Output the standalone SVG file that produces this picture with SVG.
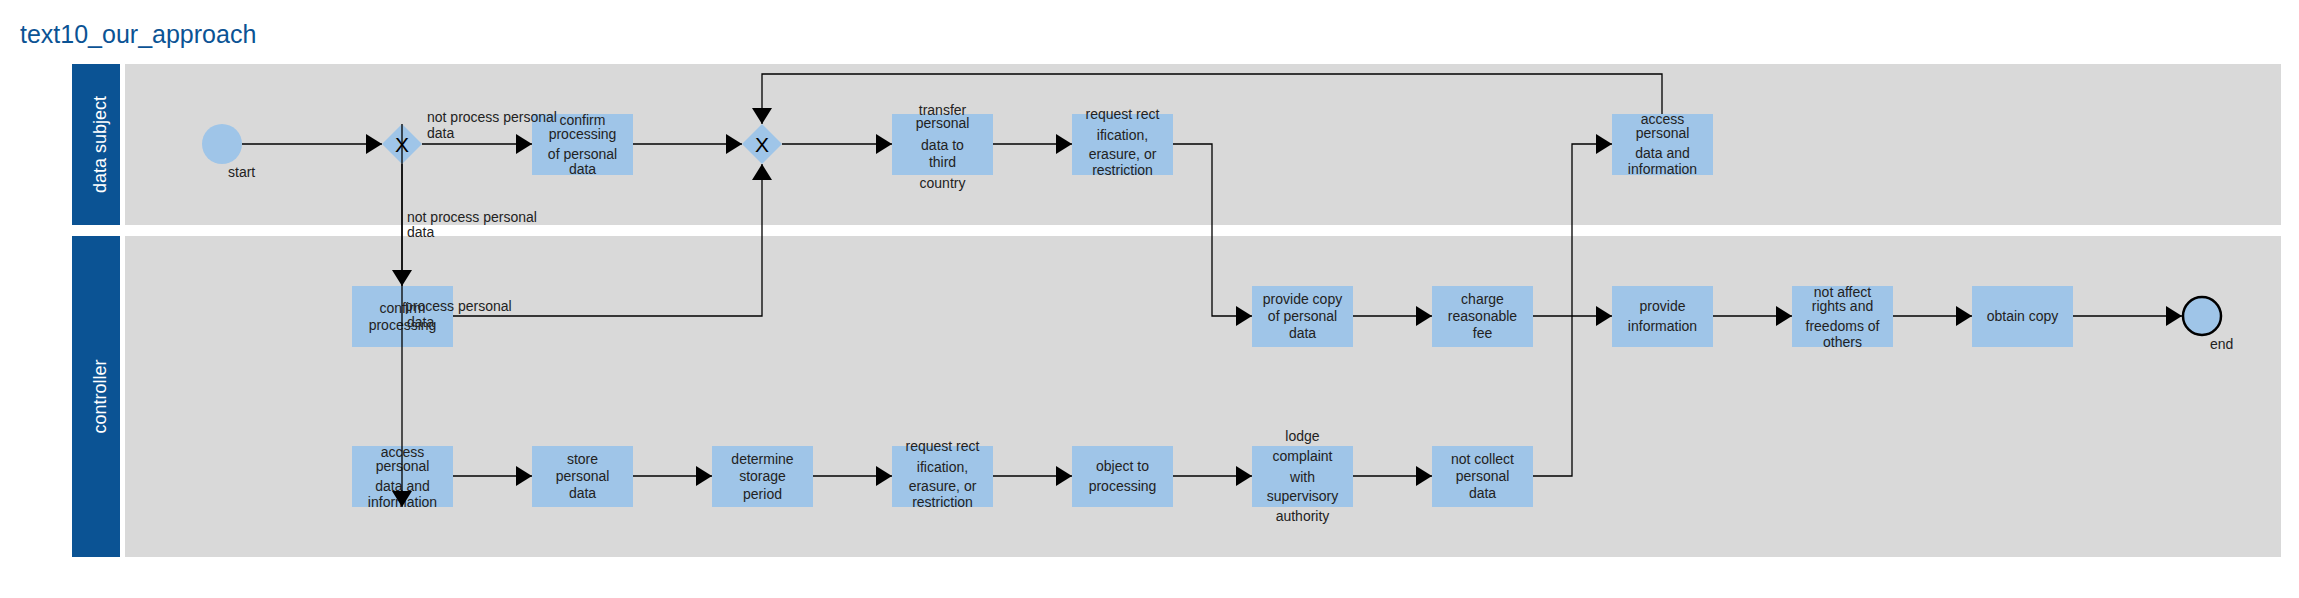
<svg xmlns="http://www.w3.org/2000/svg" width="2299" height="598" viewBox="0 0 2299 598">
<style>
text{font-family:"Liberation Sans",Arial,sans-serif;fill:#222;}
.t{font-size:14px;text-anchor:middle;}
.l{font-size:14px;}
.lane-h{fill:#0b5394;}
.lane-b{fill:#d9d9d9;}
.lane-t{font-size:18px;fill:#fff;text-anchor:middle;}
.task{fill:#9fc5e8;}
.gw{fill:#9fc5e8;}
.gx{font-size:21px;text-anchor:middle;fill:#000;}
.c{fill:none;stroke:#000;stroke-width:1.3;marker-end:url(#arr);}
</style>
<defs>
<marker id="arr" markerUnits="userSpaceOnUse" viewBox="0 0 16 20" refX="16" refY="10" markerWidth="16" markerHeight="20" orient="auto">
<path d="M0,0 L16,10 L0,20 z" fill="#000"/>
</marker>
</defs>
<rect width="2299" height="598" fill="#fff"/>
<text x="20" y="43" style="font-size:25px;fill:#0b5394">text10_our_approach</text>

<g id="lane-data-subject">
<rect class="lane-h" x="72" y="64" width="48" height="161"/>
<rect class="lane-b" x="125" y="64" width="2156" height="161"/>
<text class="lane-t" transform="translate(106,144.5) rotate(-90)">data subject</text>
</g>
<g id="lane-controller">
<rect class="lane-h" x="72" y="236" width="48" height="321"/>
<rect class="lane-b" x="125" y="236" width="2156" height="321"/>
<text class="lane-t" transform="translate(106,396.5) rotate(-90)">controller</text>
</g>

<g id="start">
<circle cx="222" cy="144" r="20" fill="#9fc5e8"/>
<text class="l" x="228" y="177">start</text>
</g>
<g id="gateway1">
<polygon class="gw" points="402,124 422,144 402,164 382,144"/>
<text class="gx" x="402" y="152">X</text>
</g>
<g id="gateway2">
<polygon class="gw" points="762,124 782,144 762,164 742,144"/>
<text class="gx" x="762" y="152">X</text>
</g>
<g id="task-confirm-processing-personal-data">
<rect class="task" x="532" y="114" width="101" height="61"/>
<text class="t" x="582.5" y="125">confirm</text>
<text class="t" x="582.5" y="139">processing</text>
<text class="t" x="582.5" y="159">of personal</text>
<text class="t" x="582.5" y="174">data</text>
</g>
<g id="task-transfer">
<rect class="task" x="892" y="114" width="101" height="61"/>
<text class="t" x="942.5" y="115">transfer</text>
<text class="t" x="942.5" y="128">personal</text>
<text class="t" x="942.5" y="150">data to</text>
<text class="t" x="942.5" y="167">third</text>
<text class="t" x="942.5" y="188">country</text>
</g>
<g id="task-request-top">
<rect class="task" x="1072" y="114" width="101" height="61"/>
<text class="t" x="1122.5" y="119">request rect</text>
<text class="t" x="1122.5" y="140">ification,</text>
<text class="t" x="1122.5" y="159">erasure, or</text>
<text class="t" x="1122.5" y="175">restriction</text>
</g>
<g id="task-access-top">
<rect class="task" x="1612" y="114" width="101" height="61"/>
<text class="t" x="1662.5" y="124">access</text>
<text class="t" x="1662.5" y="138">personal</text>
<text class="t" x="1662.5" y="158">data and</text>
<text class="t" x="1662.5" y="174">information</text>
</g>

<g id="task-confirm-processing">
<rect class="task" x="352" y="286" width="101" height="61"/>
<text class="t" x="402.5" y="313">confirm</text>
<text class="t" x="402.5" y="330">processing</text>
</g>
<g id="task-provide-copy">
<rect class="task" x="1252" y="286" width="101" height="61"/>
<text class="t" x="1302.5" y="304">provide copy</text>
<text class="t" x="1302.5" y="321">of personal</text>
<text class="t" x="1302.5" y="338">data</text>
</g>
<g id="task-charge-fee">
<rect class="task" x="1432" y="286" width="101" height="61"/>
<text class="t" x="1482.5" y="304">charge</text>
<text class="t" x="1482.5" y="321">reasonable</text>
<text class="t" x="1482.5" y="338">fee</text>
</g>
<g id="task-provide-information">
<rect class="task" x="1612" y="286" width="101" height="61"/>
<text class="t" x="1662.5" y="311">provide</text>
<text class="t" x="1662.5" y="331">information</text>
</g>
<g id="task-not-affect">
<rect class="task" x="1792" y="286" width="101" height="61"/>
<text class="t" x="1842.5" y="297">not affect</text>
<text class="t" x="1842.5" y="311">rights and</text>
<text class="t" x="1842.5" y="331">freedoms of</text>
<text class="t" x="1842.5" y="347">others</text>
</g>
<g id="task-obtain-copy">
<rect class="task" x="1972" y="286" width="101" height="61"/>
<text class="t" x="2022.5" y="321">obtain copy</text>
</g>
<g id="end">
<circle cx="2202" cy="316" r="19" fill="#9fc5e8" stroke="#000" stroke-width="2.5"/>
<text class="l" x="2210" y="349">end</text>
</g>

<g id="task-access">
<rect class="task" x="352" y="446" width="101" height="61"/>
<text class="t" x="402.5" y="457">access</text>
<text class="t" x="402.5" y="471">personal</text>
<text class="t" x="402.5" y="491">data and</text>
<text class="t" x="402.5" y="507">information</text>
</g>
<g id="task-store">
<rect class="task" x="532" y="446" width="101" height="61"/>
<text class="t" x="582.5" y="464">store</text>
<text class="t" x="582.5" y="481">personal</text>
<text class="t" x="582.5" y="498">data</text>
</g>
<g id="task-determine">
<rect class="task" x="712" y="446" width="101" height="61"/>
<text class="t" x="762.5" y="464">determine</text>
<text class="t" x="762.5" y="481">storage</text>
<text class="t" x="762.5" y="499">period</text>
</g>
<g id="task-request">
<rect class="task" x="892" y="446" width="101" height="61"/>
<text class="t" x="942.5" y="451">request rect</text>
<text class="t" x="942.5" y="472">ification,</text>
<text class="t" x="942.5" y="491">erasure, or</text>
<text class="t" x="942.5" y="507">restriction</text>
</g>
<g id="task-object">
<rect class="task" x="1072" y="446" width="101" height="61"/>
<text class="t" x="1122.5" y="471">object to</text>
<text class="t" x="1122.5" y="491">processing</text>
</g>
<g id="task-lodge">
<rect class="task" x="1252" y="446" width="101" height="61"/>
<text class="t" x="1302.5" y="441">lodge</text>
<text class="t" x="1302.5" y="461">complaint</text>
<text class="t" x="1302.5" y="482">with</text>
<text class="t" x="1302.5" y="501">supervisory</text>
<text class="t" x="1302.5" y="521">authority</text>
</g>
<g id="task-not-collect">
<rect class="task" x="1432" y="446" width="101" height="61"/>
<text class="t" x="1482.5" y="464">not collect</text>
<text class="t" x="1482.5" y="481">personal</text>
<text class="t" x="1482.5" y="498">data</text>
</g>

<g id="connectors">
<path class="c" d="M242,144 L382,144"/>
<path class="c" d="M422,144 L532,144"/>
<path class="c" d="M402,164 L402,286"/>
<path class="c" d="M402,124 L402,507"/>
<path class="c" d="M633,144 L742,144"/>
<path class="c" d="M453,316 L762,316 L762,164"/>
<path class="c" d="M782,144 L892,144"/>
<path class="c" d="M993,144 L1072,144"/>
<path class="c" d="M1173,144 L1212,144 L1212,316 L1252,316"/>
<path class="c" d="M1353,316 L1432,316"/>
<path class="c" d="M1533,316 L1612,316"/>
<path class="c" d="M1713,316 L1792,316"/>
<path class="c" d="M1893,316 L1972,316"/>
<path class="c" d="M2073,316 L2182,316"/>
<path class="c" d="M453,476 L532,476"/>
<path class="c" d="M633,476 L712,476"/>
<path class="c" d="M813,476 L892,476"/>
<path class="c" d="M993,476 L1072,476"/>
<path class="c" d="M1173,476 L1252,476"/>
<path class="c" d="M1353,476 L1432,476"/>
<path class="c" d="M1533,476 L1572,476 L1572,144 L1612,144"/>
<path class="c" d="M1662,114 L1662,74 L762,74 L762,124"/>
<text class="l" x="427" y="122">not process personal</text>
<text class="l" x="427" y="138">data</text>
<text class="l" x="407" y="222">not process personal</text>
<text class="l" x="407" y="237">data</text>
<text class="l" x="405" y="311">process personal</text>
<text class="l" x="407" y="327">data</text>
</g>
</svg>
